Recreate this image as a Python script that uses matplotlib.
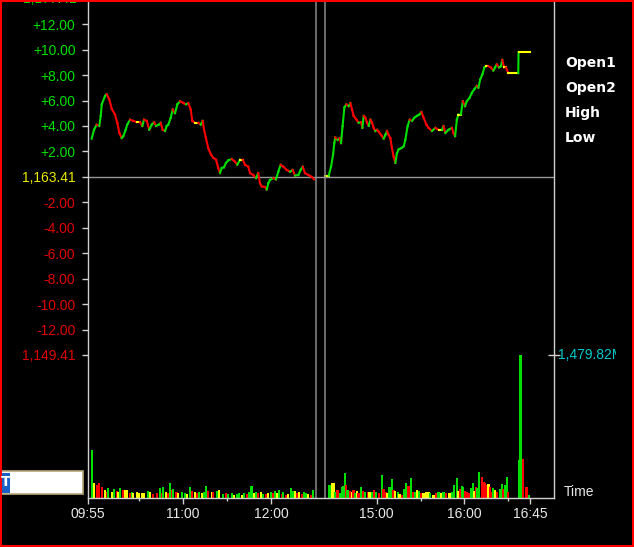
import matplotlib
matplotlib.use("Agg")
import matplotlib.pyplot as plt
from matplotlib.collections import LineCollection
from matplotlib.patches import Rectangle
from matplotlib.transforms import Bbox, blended_transform_factory
import numpy as np

plt.rcParams['font.family'] = ['Liberation Sans', 'DejaVu Sans']

# ---------------- data ----------------
BASE = 1163.41
# x = trading-minute index (0 = 09:55, morning ends 12:30 = 155, afternoon restarts at 162)
am_t = [2.5, 4.1, 5.9, 7.7, 8.7, 9.4, 11.6, 12.8, 14.5, 16.2, 18.4, 20.0, 21.4, 23.0, 24.1,
        25.7, 26.8, 28.7, 30.9, 33.2, 35.5, 37.1, 38.2, 40.1, 41.8, 43.5, 45.1, 46.4, 48.3,
        49.6, 51.0, 52.6, 53.7, 54.8, 56.5, 57.8, 59.4, 61.0, 62.8, 65.1, 66.9, 68.5, 70.1,
        71.2, 73.0, 75.3, 76.9, 78.3, 79.2, 80.5, 82.1, 84.0, 85.5, 87.4, 88.9, 90.1, 91.3,
        92.8, 94.2, 95.8, 98.1, 100.3, 101.9, 103.8, 105.6, 107.2, 109.4, 110.6, 112.8, 114.7,
        116.2, 117.4, 118.6, 120.8, 122.0, 123.1, 124.2, 126.5, 128.3, 129.9, 131.5, 133.3,
        135.6, 137.9, 139.7, 141.3, 143.6, 145.2, 146.6, 148.1, 150.4, 152.7, 154.3]
am_v = [3.0, 3.7, 4.1, 4.0, 4.8, 5.7, 6.35, 6.5, 6.1, 5.35, 4.9, 4.25, 3.45, 3.05, 3.2,
        3.7, 4.1, 4.5, 4.4, 4.3, 4.3, 4.0, 4.5, 4.4, 3.7, 4.1, 4.3, 4.0, 4.1,
        4.25, 3.7, 3.6, 4.0, 4.1, 4.65, 5.3, 5.0, 5.7, 5.95, 5.8, 5.7, 5.8, 5.3,
        4.4, 4.25, 4.25, 4.1, 4.4, 3.7, 3.05, 2.25, 1.75, 1.5, 1.35, 0.7, 0.3, 0.7,
        0.75, 1.1, 1.3, 1.4, 1.2, 0.95, 1.35, 1.35, 0.95, 0.8, 0.3, 0.15, -0.1,
        0.3, -0.5, -0.75, -0.8, -1.0, -0.5, -0.25, -0.1, -0.2, 0.4, 0.95, 0.8,
        0.55, 0.4, 0.55, 0.1, 0.15, 0.55, 0.8, 0.3, 0.15, 0.0, -0.2]
pm_t = [162.0, 164.3, 165.9, 167.3, 168.1, 168.8, 170.4, 171.8, 172.7, 173.8, 175.0, 176.3,
        177.9, 179.1, 180.2, 181.3, 183.2, 184.7, 186.4, 187.3, 188.2, 189.3, 190.5, 191.6,
        192.8, 193.9, 195.0, 196.1, 197.3, 199.1, 200.7, 201.8, 203.0, 204.1, 205.2, 206.4,
        207.5, 208.6, 209.8, 210.9, 212.0, 213.7, 215.5, 216.6, 218.2, 219.6, 221.2, 222.8,
        224.6, 226.2, 227.6, 229.1, 231.0, 232.5, 234.8, 237.1, 239.3, 241.6, 242.7, 243.9,
        246.1, 248.4, 249.5, 250.6, 251.8, 252.9, 254.5, 255.9, 257.4, 258.6, 260.4, 262.0,
        263.8, 265.4, 266.5, 267.7, 269.2, 270.6, 271.8, 273.3, 275.0, 276.7, 277.9, 279.0,
        280.6, 281.9, 282.8, 284.0, 285.3, 286.9, 293.7, 293.9, 301.7]
pm_v = [0.1, 0.1, 0.8, 1.75, 2.65, 3.1, 2.9, 3.05, 2.65, 4.0, 5.45, 5.7,
        5.55, 5.8, 5.3, 4.8, 4.5, 4.25, 4.3, 3.85, 4.8, 4.65, 4.25, 4.0,
        4.5, 4.25, 3.85, 3.6, 3.7, 3.45, 3.2, 3.0, 3.3, 3.6, 3.3, 3.05,
        2.25, 1.6, 1.1, 1.85, 2.15, 2.25, 2.4, 2.9, 4.0, 4.5, 4.4, 4.65,
        4.8, 4.9, 5.1, 4.65, 4.1, 3.85, 3.6, 3.85, 3.7, 3.7, 4.0, 3.45,
        3.7, 3.85, 3.45, 3.2, 4.5, 4.9, 4.9, 5.95, 5.55, 5.95, 6.2, 6.6,
        6.9, 7.15, 7.0, 7.65, 8.05, 8.6, 8.7, 8.7, 8.6, 8.35, 8.6, 8.85,
        8.6, 8.7, 9.2, 8.6, 8.6, 8.15, 8.15, 9.8, 9.8]

# volume (millions), colour code g/r/y
vol_am_t = [2.5, 4.3, 5.9, 7.7, 9.4, 11.6, 12.8, 13.9, 16.2, 17.7,
            19.6, 20.7, 21.8, 23.7, 25.3, 26.8, 28.7, 29.8, 30.9, 33.2,
            35.0, 36.7, 38.2, 41.2, 42.3, 44.6, 46.9, 49.1, 50.3, 51.4,
            53.2, 54.8, 56.0, 57.1, 58.2, 60.5, 61.6, 64.0, 66.2, 67.4,
            69.6, 70.8, 73.0, 74.6, 76.0, 77.6, 79.2, 80.5, 82.1, 84.4,
            85.5, 87.9, 89.6, 92.4, 94.2, 95.8, 98.1, 99.7, 101.5, 103.3,
            104.9, 106.5, 108.3, 110.1, 111.7, 113.3, 114.7, 116.2, 117.9, 119.7,
            121.5, 123.1, 124.7, 126.5, 127.6, 129.2, 130.6, 132.2, 133.3, 135.2,
            136.7, 138.4, 139.7, 141.3, 142.9, 144.2, 145.9, 147.4, 148.8, 150.4,
            152.0, 153.8]
vol_am_v = [494, 148, 131, 155, 114, 80, 62, 96, 62, 86,
            72, 62, 96, 80, 80, 80, 45, 62, 45, 52,
            45, 45, 45, 69, 52, 34, 45, 96, 45, 114,
            59, 45, 148, 80, 86, 59, 45, 52, 45, 38,
            104, 69, 59, 45, 59, 45, 59, 121, 72, 52,
            62, 69, 80, 38, 45, 38, 45, 31, 34, 45,
            31, 45, 34, 52, 121, 45, 59, 45, 52, 38,
            34, 45, 52, 45, 69, 45, 80, 34, 59, 31,
            38, 96, 69, 65, 45, 52, 38, 52, 45, 34,
            28, 80]
vol_am_c = ("gyrrryrgyg" "rygryyrgyy" "yyygyrrgrg" "yrgrgryggy" "gryrgyggry"
            "rgygrggygg" "ygrggygryg" "rygrgygrgr" "yggyryrggy" "rg")
vol_pm_t = [164.9, 166.6, 167.7, 168.8, 170.4, 171.8, 173.4, 174.5, 175.4, 176.3,
            177.2, 178.6, 180.2, 181.3, 182.5, 183.6, 184.7, 186.4, 187.7, 189.3,
            190.9, 192.2, 193.9, 195.0, 196.8, 198.4, 200.7, 201.8, 203.0, 204.5,
            205.9, 207.5, 208.6, 209.8, 211.4, 212.7, 214.4, 215.9, 217.3, 218.8,
            220.5, 221.8, 223.4, 224.6, 225.7, 227.3, 229.1, 231.0, 232.5, 233.5,
            235.8, 237.6, 239.3, 240.9, 242.7, 244.4, 246.7, 248.3, 249.9, 251.7,
            252.9, 254.0, 255.2, 256.2, 257.4, 258.6, 260.3, 261.5, 262.6, 263.5,
            264.9, 265.8, 267.1, 268.8, 269.9, 271.0, 272.6, 273.3, 274.4, 275.6,
            276.7, 277.8, 279.0, 281.2, 282.4, 283.5, 284.6, 285.8, 286.9, 294.4,
            295.3, 296.7, 299.4, 301.2]
vol_pm_v = [131, 155, 155, 62, 80, 45, 104, 121, 259, 131,
            80, 69, 62, 80, 45, 69, 45, 104, 69, 59,
            52, 59, 62, 80, 62, 45, 235, 86, 62, 45,
            104, 189, 80, 69, 59, 38, 31, 90, 155, 121,
            207, 55, 60, 75, 69, 45, 45, 52, 59, 45,
            31, 45, 62, 45, 59, 45, 45, 62, 131, 207,
            69, 86, 121, 104, 69, 59, 45, 96, 155, 69,
            104, 96, 269, 217, 166, 148, 131, 138, 104, 62,
            96, 80, 62, 86, 138, 86, 131, 217, 62, 390,
            1479.82, 396, 114, 28]
vol_pm_c = ("gyygrggggr" "gryrgyrgrg" "rygrgrgrry" "ggrygyrggr" "grgygryyyg"
            "yrgygryggg" "yrggrrrggy" "rggrrrryrr" "gyrggrggrg" "grrg")
VOL_MAX = 1479.82

x_major = [0, 65, 125, 197, 257, 302]
x_major_labels = ["09:55", "11:00", "12:00", "15:00", "16:00", "16:45"]
x_minor = [35, 95, 227, 287]
session_breaks = [155.4, 161.6]
legend_items = ["Open1", "Open2", "High", "Low"]

# ---------------- figure ----------------
W, H = 634, 547
fig = plt.figure(figsize=(W / 100, H / 100), dpi=100, facecolor="black")

def fx(px):
    return px / W

def fy(py):
    return 1 - py / H

L, R, PB, VB = 88, 554, 355, 497.5
ax = fig.add_axes([fx(L), fy(PB), fx(R - L), PB / H])
axv = fig.add_axes([fx(L), fy(VB), fx(R - L), (VB - PB) / H], sharex=ax)

AXC = "#d0d0d0"
GREEN, RED, YELLOW = "#00e000", "#ff0000", "#ffff00"
cmap = {"g": GREEN, "r": RED, "y": YELLOW}

for a in (ax, axv):
    a.set_facecolor("black")
    for s in a.spines.values():
        s.set_color(AXC)
        s.set_linewidth(1.0)
    a.spines["top"].set_visible(False)
ax.spines["bottom"].set_visible(False)

ax.set_xlim(0, 318.1)
ax.set_ylim(-14, 13.9)

# price line segments coloured by direction
def draw_price(t, v):
    pts = np.column_stack([t, v])
    segs = np.stack([pts[:-1], pts[1:]], axis=1)
    d = np.diff(v)
    cols = [GREEN if x > 0 else (RED if x < 0 else YELLOW) for x in d]
    lc = LineCollection(segs, colors=cols, linewidths=1.5, capstyle="projecting")
    ax.add_collection(lc)

draw_price(am_t, am_v)
draw_price(pm_t, pm_v)

ax.axhline(0, color="#989898", lw=1.0, zorder=1)
for b in session_breaks:
    ax.axvline(b, color="#8a8a8a", lw=1.1)
    axv.axvline(b, color="#8a8a8a", lw=1.1)

# y ticks on price axis
yt = list(range(-14, 13, 2))
ylabels, ycolors = [], []
for v in yt:
    if v == 0:
        ylabels.append(f"{BASE:,.2f}"); ycolors.append("#e8e800")
    elif v == -14:
        ylabels.append(f"{BASE - 14:,.2f}"); ycolors.append("#e00000")
    elif v > 0:
        ylabels.append(f"+{v:.2f}"); ycolors.append("#00e000")
    else:
        ylabels.append(f"{v:.2f}"); ycolors.append("#e00000")
ax.set_yticks(yt)
ax.set_yticklabels(ylabels)
for lbl, c in zip(ax.get_yticklabels(), ycolors):
    lbl.set_color(c)
ax.tick_params(axis="y", direction="out", length=4, width=1, color=AXC, pad=5, labelsize=10)
ax.tick_params(axis="x", which="both", bottom=False, labelbottom=False)
trans = blended_transform_factory(fig.transFigure, ax.transData)
ax.text(fx(77), 14, f"{BASE + 14:,.2f}", transform=trans, ha="right", va="center",
        color="#00e000", fontsize=10, clip_on=False)

# volume bars
vol_t = vol_am_t + vol_pm_t
vol_v = vol_am_v + vol_pm_v
vol_c = [cmap[c] for c in vol_am_c + vol_pm_c]
axv.bar(vol_t, vol_v, width=1.55, color=vol_c, linewidth=0, antialiased=False)
axv.set_ylim(0, VOL_MAX)
axv.yaxis.set_ticks_position("right")
axv.set_yticks([VOL_MAX])
axv.set_yticklabels([""])
axv.tick_params(axis="y", direction="inout", length=8, width=1, color=AXC)
vt = axv.text(1.008, 1.0, f"{VOL_MAX:,.2f}M", transform=axv.transAxes, ha="left",
              va="center", color="#00c8c8", fontsize=10, clip_on=True)
vt.set_clip_box(Bbox.from_extents(0, 0, 616, H))

axv.set_xticks(x_major)
axv.set_xticklabels(x_major_labels)
axv.set_xticks(x_minor, minor=True)
axv.tick_params(axis="x", which="major", direction="out", length=4.5, width=1,
                color=AXC, labelcolor="#e8e8e8", labelsize=10, pad=2.5)
axv.tick_params(axis="x", which="minor", direction="out", length=2.5, width=1, color=AXC)

# right-side texts
for i, name in enumerate(legend_items):
    fig.text(fx(565), fy(67.5 + 25 * i), name, color="white", fontsize=10,
             fontweight="bold", family="DejaVu Sans", va="baseline")
fig.text(fx(564), fy(496.5), "Time", color="#e8e8e8", fontsize=10, va="baseline")

# input box at lower left
fig.add_artist(Rectangle((fx(0.5), fy(494)), fx(82.5), 23.5 / H, transform=fig.transFigure,
                         facecolor="white", edgecolor="#b8a878", lw=1.2))
fig.add_artist(Rectangle((fx(1.5), fy(492.5)), fx(8.5), 19.5 / H, transform=fig.transFigure,
                         facecolor="#1860c8", edgecolor="none"))
fig.text(fx(5.8), fy(482.5), "T", color="white", fontsize=10, fontweight="bold",
         ha="center", va="center", family="DejaVu Sans")

# red window border
fig.add_artist(Rectangle((0, 0), 1, 1, transform=fig.transFigure, fill=False,
                         edgecolor="#ff0000", lw=2.9))

fig.savefig("out.png", dpi=100, facecolor="black")
